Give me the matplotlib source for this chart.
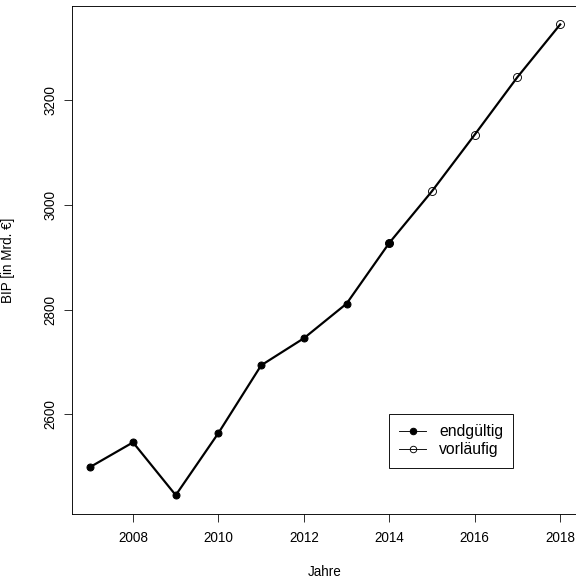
import matplotlib
matplotlib.use("Agg")
import matplotlib.pyplot as plt
from matplotlib.lines import Line2D

plt.rcParams['font.family'] = ['Liberation Sans', 'DejaVu Sans']

# BIP Deutschland, in Mrd. Euro
jahre = [2007, 2008, 2009, 2010, 2011, 2012, 2013, 2014, 2015, 2016, 2017, 2018]
bip = [2499.6, 2546.5, 2445.7, 2564.4, 2693.6, 2745.3, 2811.4, 2927.4,
       3026.2, 3134.1, 3244.0, 3344.4]
endgueltig = 8  # erste 8 Jahre endgültig, Rest vorläufig

x_ticks = [2008, 2010, 2012, 2014, 2016, 2018]
y_ticks = [2600, 2800, 3000, 3200]

W, H = 576, 578
fs = 13.5
fig = plt.figure(figsize=(W / 72, H / 72), dpi=72)
ax = fig.add_axes([71.5 / W, 64 / H, (579 - 71.5) / W, (514 - 5.6) / H])

ax.plot(jahre, bip, color='black', lw=2.2, zorder=2)
ax.plot(jahre[:endgueltig], bip[:endgueltig], 'o', color='black', ms=7, zorder=3)
ax.plot(jahre[endgueltig - 1:], bip[endgueltig - 1:], 'o', mfc='none', mec='black',
        ms=8, mew=0.9, zorder=3)
# the last filled point is drawn again on top
ax.plot(jahre[endgueltig - 1], bip[endgueltig - 1], 'o', color='black', ms=7, zorder=4)

ax.margins(0.04)
ax.set_xticks(x_ticks)
ax.set_yticks(y_ticks)
ax.tick_params(direction='out', length=8, width=0.8, labelsize=fs)
ax.tick_params(axis='x', pad=9.5)
ax.tick_params(axis='y', labelrotation=90, pad=6)
for lab in ax.get_yticklabels():
    lab.set_va('center')
for s in ax.spines.values():
    s.set_linewidth(0.9)
ax.spines['right'].set_visible(False)

fig.text(8.5 / W, 1 - 260 / H, 'BIP [in Mrd. €]', rotation=90, ha='center', va='center',
         fontsize=fs)
fig.text(325 / W, 1 - 572 / H, 'Jahre', ha='center', va='center', fontsize=fs)

handles = [Line2D([], [], color='black', lw=0.9, marker='o', ms=6.5),
           Line2D([], [], color='black', lw=0.9, marker='o', mfc='none', ms=6.5, mew=0.9)]
leg = fig.legend(handles, ['endgültig', 'vorläufig'], loc='upper left',
                 bbox_to_anchor=(388.5 / W, 1 - 414 / H), bbox_transform=fig.transFigure,
                 fancybox=False, edgecolor='black', framealpha=1, fontsize=15.8,
                 borderaxespad=0, handlelength=1.75, handletextpad=0.8,
                 borderpad=0.65, labelspacing=0.2)
leg.get_frame().set_linewidth(0.9)

fig.savefig('out.png', dpi=72)
